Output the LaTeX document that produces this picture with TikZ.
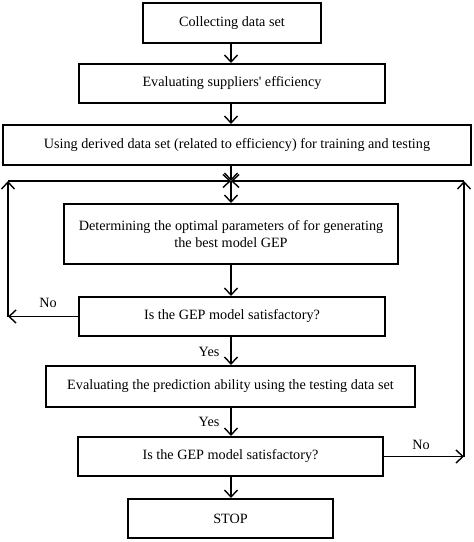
\documentclass[tikz,border=0pt]{standalone}
\usepackage{fontspec}
\setmainfont{Liberation Serif}
\newfontfamily\plainq{Liberation Serif}[Ligatures=TeXOff]
\usetikzlibrary{arrows.meta}
\begin{document}
\begin{tikzpicture}[x=1pt,y=-1pt,
  box/.style={draw,line width=2pt,minimum height=#1,inner sep=0pt,align=center,font=\fontsize{14.2}{17}\selectfont},
  box/.default=39pt,
  arr/.style={line width=1.4pt,-{Straight Barb[length=7pt,width=13pt,line width=1.4pt]}},
  lbl/.style={font=\fontsize{14.2}{16}\selectfont}]
\useasboundingbox (0,0) rectangle (474,542);
\node[box=40pt,minimum width=178pt,line width=2.4pt] (b1) at (232,23) {Collecting data set};
\node[box,minimum width=306pt] (b2) at (232,83.5) {Evaluating suppliers{\plainq '} efficiency};
\node[box=40pt,minimum width=468pt] (b3) at (237,145) {Using derived data set (related to efficiency) for training and testing};
\coordinate (j) at (231,181);
\coordinate (L) at (8,181);
\coordinate (R) at (464,181);
\node[box=60pt,minimum width=334pt] (b4) at (231,234) {Determining the optimal parameters of for generating\\the best model GEP};
\node[box,minimum width=306pt] (b5) at (232,316.5) {Is the GEP model satisfactory?};
\node[box=41pt,minimum width=369pt] (b6) at (230.5,386.5) {Evaluating the prediction ability using the testing data set};
\node[box,minimum width=305pt] (b7) at (230.5,456.5) {Is the GEP model satisfactory?};
\node[box,minimum width=205pt] (b8) at (230.5,518.5) {STOP};
\draw[arr] (b1.south -| j) -- (b2.north -| j);
\draw[arr] (b2.south -| j) -- (b3.north -| j);
\draw[arr] (b3.south -| j) -- (j);
\draw[arr] (j) -- (b4.north -| j);
\draw[arr] (b4.south -| j) -- (b5.north -| j);
\draw[arr] (b5.south -| j) -- (b6.north -| j);
\draw[arr] (b6.south -| j) -- (b7.north -| j);
\draw[arr] (b7.south -| j) -- (b8.north -| j);
\draw[arr] (b5.west) -- (b5.west -| L);
\draw[arr] (b5.west -| L) -- (L);
\draw[arr] (L) -- (j);
\draw[arr] (b7.east) -- (b7.east -| R);
\draw[arr] (b7.east -| R) -- (R);
\draw[arr] (R) -- (j);
\node[lbl] (no1) at (48,303) {No};
\node[lbl] (yes1) at (209,352) {Yes};
\node[lbl] (yes2) at (209,422) {Yes};
\node[lbl] (no2) at (421,445) {No};
\end{tikzpicture}
\end{document}
